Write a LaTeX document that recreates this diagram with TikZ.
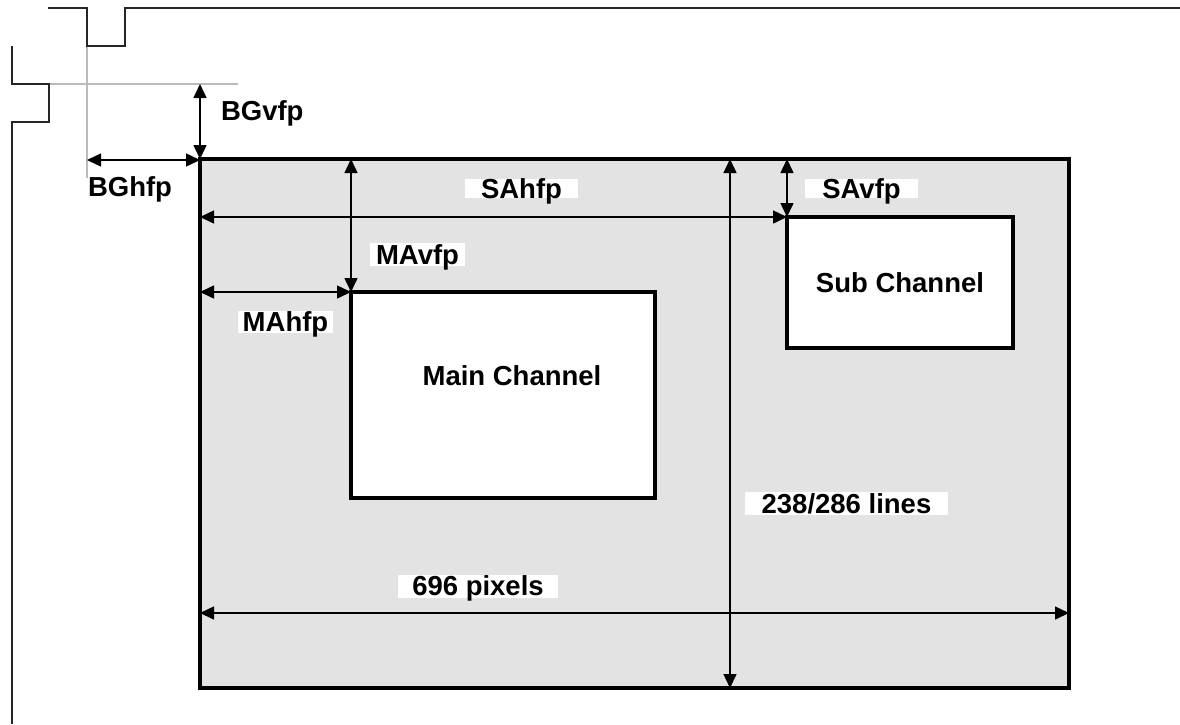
\documentclass[tikz,border=0pt]{standalone}
\usepackage{fontspec}
\setmainfont{Liberation Sans}
\usetikzlibrary{arrows.meta}
\definecolor{panelgray}{HTML}{E3E3E3}
\definecolor{guidegray}{HTML}{BBBBBB}
\begin{document}
\begin{tikzpicture}[x=1pt,y=-1pt,
  lbl/.style={font=\fontsize{27.5}{32}\selectfont\bfseries, inner sep=0pt, outer sep=0pt},
  tag/.style={lbl, fill=white, text height=19pt, text depth=0pt, align=center},
  frame/.style={draw=black, line width=3.6pt, inner sep=0pt, outer sep=0pt},
  dim/.style={line width=1.5pt, {Triangle[length=14pt,width=13pt]}-{Triangle[length=14pt,width=13pt]}},
  sync/.style={line width=2pt, draw=black!85},
  guide/.style={line width=1.5pt, draw=guidegray}]
\useasboundingbox (0,0) rectangle (1180,724);

% sync waveforms and reference guides
\coordinate (h0) at (48,8);
\coordinate (h1) at (87,46);
\coordinate (v0) at (12,46);
\coordinate (v1) at (49,84);
\coordinate (hg) at (87,178);
\coordinate (vg) at (238,84);
\draw[guide] (h1) -- (hg);
\draw[guide] (v1) -- (vg);
\draw[sync] (h0) -- (87,8) -- (h1) -- (125,46) -- (125,8) -- (1180,8);
\draw[sync] (v0) -- (12,84) -- (v1) -- (49,122) -- (12,122) -- (12,724);

% display area and channel windows
\node[frame, fill=panelgray, minimum width=869pt, minimum height=529pt, anchor=north west] (bg) at (200,159) {};
\node[frame, fill=white, minimum width=304pt, minimum height=206pt, anchor=north west] (main) at (351,292) {};
\node[frame, fill=white, minimum width=226pt, minimum height=131pt, anchor=north west, lbl, text height=19pt, text depth=0pt] (sub) at (787,217) {Sub Channel};
\node[lbl, text height=19pt, text depth=0pt] (mainlbl) at (512,376) {Main Channel};

% porch dimensions
\draw[dim] (bg.north west |- vg) -- (bg.north west);
\draw[dim] (hg |- 0,160) coordinate (bgh) -- (bg.north west |- bgh);
\draw[dim] (bg.west |- sub.north west) -- (sub.north west);
\draw[dim] (main.north west |- bg.north) -- (main.north west);
\draw[dim] (bg.west |- main.north west) -- (main.north west);
\draw[dim] (sub.north west |- bg.north) -- (sub.north west);
\draw[dim] (730,159) coordinate (lt) -- (lt |- bg.south);
\draw[dim] (bg.west |- 0,613) coordinate (pl) -- (bg.east |- pl);

% labels
\node[lbl, anchor=base west] (bgvfp) at (221,120) {BGvfp};
\node[lbl, anchor=base west] (bghfp) at (88,196) {BGhfp};
\node[tag, minimum width=113pt, minimum height=19pt] (sahfp) at (521.5,188.5) {SAhfp};
\node[tag, minimum width=95pt, minimum height=23pt] (mavfp) at (417.5,254.5) {MAvfp};
\node[tag, minimum width=95pt, minimum height=22pt] (mahfp) at (285.5,322) {MAhfp};
\node[tag, minimum width=113pt, minimum height=19pt] (savfp) at (861.5,188.5) {SAvfp};
\node[tag, minimum width=203pt, minimum height=23pt] (lines) at (846.5,503.5) {238/286 lines};
\node[tag, minimum width=160pt, minimum height=23pt] (pixels) at (478,586) {696 pixels};
\end{tikzpicture}
\end{document}
